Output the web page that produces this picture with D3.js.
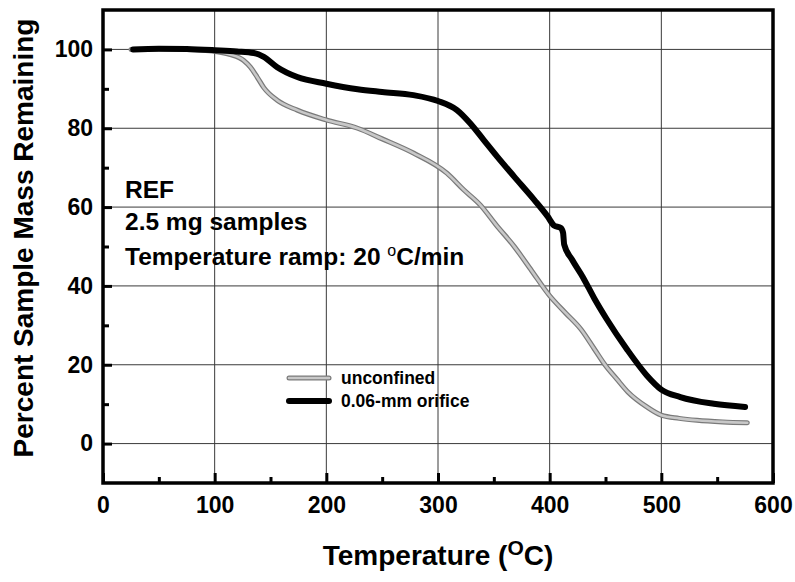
<!DOCTYPE html>
<html><head><meta charset="utf-8">
<script src="https://cdn.jsdelivr.net/npm/d3@7"></script>
<style>
html,body{margin:0;padding:0;background:#fff;}
svg{display:block;font-family:"Liberation Sans",Arial,sans-serif;}
</style></head>
<body>
<svg id="chart" width="795" height="582"></svg>
<script>
// Data
const unconfinedT = [25,50,75,100,114,126,132,138,144,156,174,200,228,250,278,308,323,338,352,368,384,400,414,428,440,450,460,470,487,500,516,532,555,577];
const unconfinedV = [100,100.1,100,99.5,98.7,97.2,95.5,93.0,90.3,87.1,84.6,82.1,80.0,77.3,73.7,68.6,64.4,60.5,55.5,50.1,43.8,37.5,33.2,29.0,24.0,19.8,16.4,13.1,9.3,7.2,6.4,5.9,5.5,5.3];
const orificeT = [27,50,75,100,120,135,144,156,174,200,228,250,278,300,317,329,341,353,368,386,398,404,410,412,413,420,430,440,451,469,487,500,517,547,575];
const orificeV = [100,100.2,100.1,99.8,99.5,99.1,98.1,95.5,93.0,91.3,89.9,89.2,88.4,86.9,84.6,81.2,77.0,72.8,67.8,61.9,57.7,55.3,54.7,53.5,50.5,46.7,42.1,36.8,31.6,24.0,17.3,13.7,11.8,10.1,9.3];
const xTicks = [0,100,200,300,400,500,600];
const xMinor = [50,150,250,350,450,550];
const yTicks = [0,20,40,60,80,100];
const yMinor = [10,30,50,70,90];
const notes = ["REF","2.5 mg samples","Temperature ramp: 20 °C/min"];
const legendLabels = ["unconfined","0.06-mm orifice"];

const svg = d3.select("#chart");
const L=103, R=773, T=10, B=483;
const x = d3.scaleLinear().domain([0,600]).range([L,R]);
const y = d3.scaleLinear().domain([-10,110]).range([B,T]);

// gridlines
const grid = svg.append("g").attr("stroke","#3a3a3a").attr("stroke-width",1);
grid.selectAll("line.gx").data(xTicks.slice(1,-1)).join("line")
  .attr("x1",d=>x(d)).attr("x2",d=>x(d)).attr("y1",T).attr("y2",B);
grid.selectAll("line.gy").data(yTicks).join("line")
  .attr("x1",L).attr("x2",R).attr("y1",d=>y(d)).attr("y2",d=>y(d));

// axes
const font = "'Liberation Sans',Arial,sans-serif";
const yAx = svg.append("g").attr("transform",`translate(${L},0)`)
  .call(d3.axisLeft(y).tickValues(yTicks).tickSizeInner(-9).tickSizeOuter(0).tickPadding(10));
const yAxMin = svg.append("g").attr("transform",`translate(${L},0)`)
  .call(d3.axisLeft(y).tickValues(yMinor).tickSizeInner(-6).tickSizeOuter(0).tickFormat(""));
const xAx = svg.append("g").attr("transform",`translate(0,${B})`)
  .call(d3.axisBottom(x).tickValues(xTicks).tickSizeInner(-10).tickSizeOuter(0).tickPadding(14));
const xAxMin = svg.append("g").attr("transform",`translate(0,${B})`)
  .call(d3.axisBottom(x).tickValues(xMinor).tickSizeInner(-6).tickSizeOuter(0).tickFormat(""));
[yAx,yAxMin,xAx,xAxMin].forEach(g=>{
  g.select(".domain").remove();
  g.selectAll(".tick line").attr("stroke","#000").attr("stroke-width",3);
  g.selectAll(".tick text").attr("font-family",font).attr("font-size",23)
    .attr("font-weight","bold").attr("fill","#000");
});

// frame
svg.append("rect").attr("x",L).attr("y",T).attr("width",R-L).attr("height",B-T)
  .attr("fill","none").attr("stroke","#000").attr("stroke-width",3.5);

// series
const line = d3.line().x(d=>x(d[0])).y(d=>y(d[1])).curve(d3.curveMonotoneX);
const uData = unconfinedT.map((t,i)=>[t,unconfinedV[i]]);
const oData = orificeT.map((t,i)=>[t,orificeV[i]]);
svg.append("path").datum(uData).attr("d",line).attr("fill","none")
  .attr("stroke","#7a7a7a").attr("stroke-width",5).attr("stroke-linecap","round");
svg.append("path").datum(uData).attr("d",line).attr("fill","none")
  .attr("stroke","#c8c8c8").attr("stroke-width",2.6).attr("stroke-linecap","round");
svg.append("path").datum(oData).attr("d",line).attr("fill","none")
  .attr("stroke","#000").attr("stroke-width",6).attr("stroke-linecap","round");

// annotation text
const noteY = [198,230,265];
notes.forEach((s,i)=>{
  const t = svg.append("text").attr("x",125).attr("y",noteY[i])
    .attr("font-family",font).attr("font-size",24.5).attr("font-weight","bold").attr("fill","#000");
  if(i===2){
    t.append("tspan").text("Temperature ramp: 20 ");
    t.append("tspan").attr("dy",-9).attr("font-size",16).attr("font-weight","normal").text("o");
    t.append("tspan").attr("dy",9).text("C/min");
  } else t.text(s);
});

// legend
const lg = svg.append("g");
lg.append("line").attr("x1",289).attr("x2",329).attr("y1",378).attr("y2",378)
  .attr("stroke","#7a7a7a").attr("stroke-width",5).attr("stroke-linecap","round");
lg.append("line").attr("x1",289).attr("x2",329).attr("y1",378).attr("y2",378)
  .attr("stroke","#c8c8c8").attr("stroke-width",2.6).attr("stroke-linecap","round");
lg.append("line").attr("x1",289).attr("x2",329).attr("y1",401).attr("y2",401)
  .attr("stroke","#000").attr("stroke-width",6).attr("stroke-linecap","round");
lg.selectAll("text").data(legendLabels).join("text")
  .attr("x",341).attr("y",(d,i)=>384+i*23).attr("font-family",font)
  .attr("font-size",17.5).attr("font-weight","bold").attr("fill","#000").text(d=>d);

// axis titles
const xt = svg.append("text").attr("x",438).attr("y",565).attr("text-anchor","middle")
  .attr("font-family",font).attr("font-size",28).attr("font-weight","bold").attr("fill","#000");
xt.append("tspan").text("Temperature (");
xt.append("tspan").attr("dy",-10).attr("font-size",21).text("O");
xt.append("tspan").attr("dy",10).text("C)");
svg.append("text").attr("transform","translate(33,238) rotate(-90)").attr("text-anchor","middle")
  .attr("font-family",font).attr("font-size",28).attr("font-weight","bold").attr("fill","#000")
  .text("Percent Sample Mass Remaining");
</script>
</body></html>
